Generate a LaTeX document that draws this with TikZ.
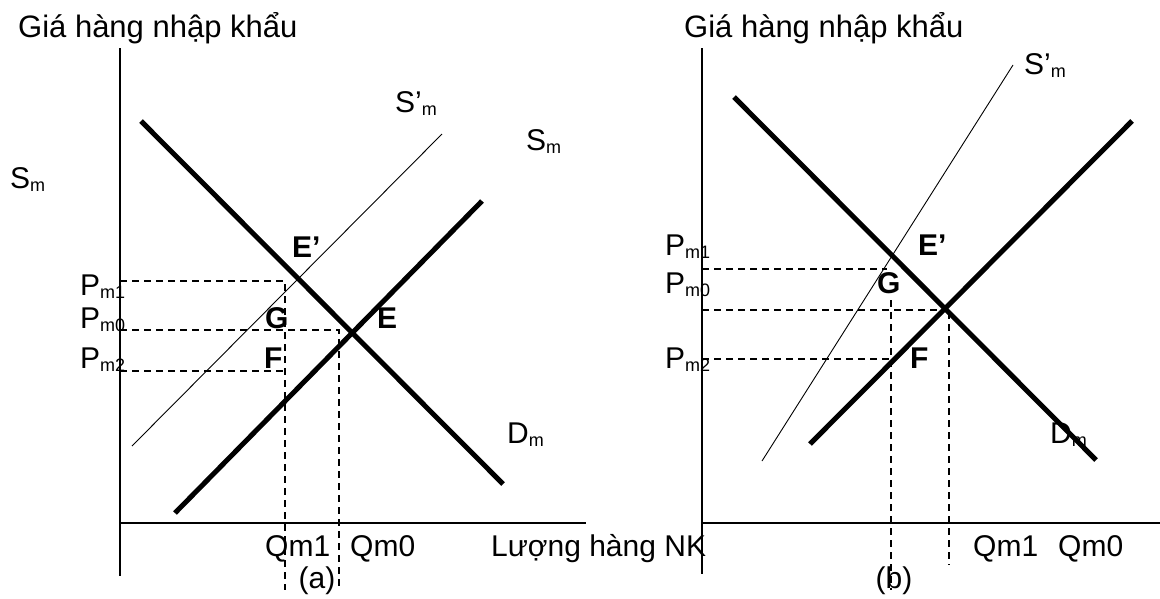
\documentclass[tikz,border=0pt]{standalone}
\usepackage{fontspec}
\setmainfont{Liberation Sans}
\newcommand\sbm[1]{\raisebox{-3pt}{\fontsize{18}{18}\selectfont #1}}
\begin{document}
\begin{tikzpicture}[x=1pt,y=-1pt,
  lbl/.style={inner sep=0pt,anchor=base west,font=\fontsize{30}{30}\selectfont},
  ttl/.style={inner sep=0pt,anchor=base west,font=\fontsize{31}{31}\selectfont},
  ptl/.style={inner sep=0pt,anchor=base west,font=\fontsize{30}{30}\selectfont\bfseries},
  axisline/.style={line width=2pt},
  curveline/.style={line width=5pt},
  thinline/.style={line width=0.9pt},
  guide/.style={line width=1.5pt,dash pattern=on 7pt off 5pt}]
\useasboundingbox (0,0) rectangle (1160,598);
\fill[white] (0,0) rectangle (1160,598);

% ---------- panel (a) ----------
\coordinate (aYt) at (120,48);
\coordinate (aYb) at (120,576);
\coordinate (aXl) at (120,523);
\coordinate (aXr) at (586,523);
\coordinate (aDt) at (141,121);
\coordinate (aDb) at (503,484);
\coordinate (aSb) at (175,513);
\coordinate (aSt) at (482,201);
\coordinate (aS2b) at (132,446);
\coordinate (aS2t) at (442,134);
\coordinate (aP1) at (120,281);
\coordinate (aP1e) at (285,281);
\coordinate (aP0) at (120,330);
\coordinate (aP0e) at (339,330);
\coordinate (aP2) at (120,371);
\coordinate (aP2e) at (285,371);
\coordinate (aQ1b) at (285,590);
\coordinate (aQ0b) at (339,588);

\draw[guide] (aP1) -- (aP1e) -- (aQ1b);
\draw[guide] (aP2) -- (aP2e);
\draw[guide] (aP0) -- (aP0e) -- (aQ0b);

\draw[axisline] (aYt) -- (aYb);
\draw[axisline] (aXl) -- (aXr);

\node[ttl] (atitle) at (18,37) {Giá hàng nhập khẩu};
\node[lbl] (aSmL) at (10,188) {S\sbm{m}};
\node[lbl] (aS2lab) at (395,112) {S’\sbm{m}};
\node[lbl] (aSlab) at (526,150) {S\sbm{m}};
\node[lbl] (aDlab) at (507,443) {D\sbm{m}};
\node[lbl] (aPm1) at (80,295) {P\sbm{m1}};
\node[lbl] (aPm0) at (80,328) {P\sbm{m0}};
\node[lbl] (aPm2) at (80,368) {P\sbm{m2}};
\node[ptl] (aEp) at (292,257) {E’};
\node[ptl] (aG) at (265,328) {G};
\node[ptl] (aE) at (377,328) {E};
\node[ptl] (aF) at (264,368) {F};
\node[lbl] (aQ1) at (265,556) {Qm1};
\node[lbl] (aQ0) at (350,556) {Qm0};
\node[lbl] (xlab) at (491,556) {Lượng hàng NK};
\node[lbl,anchor=base] (acap) at (317,588) {(a)};

\draw[thinline] (aS2b) -- (aS2t);
\draw[curveline] (aDt) -- (aDb);
\draw[curveline] (aSb) -- (aSt);

% ---------- panel (b) ----------
\coordinate (bYt) at (702,48);
\coordinate (bYb) at (702,574);
\coordinate (bXl) at (702,523);
\coordinate (bXr) at (1160,523);
\coordinate (bDt) at (734,97);
\coordinate (bDb) at (1096,460);
\coordinate (bSb) at (810,444);
\coordinate (bSt) at (1132,121);
\coordinate (bS2b) at (762,461);
\coordinate (bS2t) at (1013,65);
\coordinate (bP1) at (702,269);
\coordinate (bP1e) at (887,269);
\coordinate (bP0) at (702,310);
\coordinate (bP0e) at (945,310);
\coordinate (bP2) at (702,359);
\coordinate (bP2e) at (891,359);
\coordinate (bV1t) at (891,300);
\coordinate (bV1b) at (891,590);
\coordinate (bV0t) at (949,312);
\coordinate (bV0b) at (949,565);

\draw[guide] (bP1) -- (bP1e);
\draw[guide] (bP0) -- (bP0e);
\draw[guide] (bP2) -- (bP2e);
\draw[guide] (bV1t) -- (bV1b);
\draw[guide] (bV0t) -- (bV0b);

\draw[axisline] (bYt) -- (bYb);
\draw[axisline] (bXl) -- (bXr);

\node[ttl] (btitle) at (684,37) {Giá hàng nhập khẩu};
\node[lbl] (bS2lab) at (1024,74) {S’\sbm{m}};
\node[lbl] (bDlab) at (1050,443) {D\sbm{m}};
\node[lbl] (bPm1) at (665,255) {P\sbm{m1}};
\node[lbl] (bPm0) at (665,293) {P\sbm{m0}};
\node[lbl] (bPm2) at (665,368) {P\sbm{m2}};
\node[ptl] (bEp) at (918,255) {E’};
\node[ptl] (bG) at (877,293) {G};
\node[ptl] (bF) at (910,368) {F};
\node[lbl] (bQ1) at (973,556) {Qm1};
\node[lbl] (bQ0) at (1058,556) {Qm0};
\node[lbl,anchor=base] (bcap) at (894,588) {(b)};

\draw[thinline] (bS2b) -- (bS2t);
\draw[curveline] (bDt) -- (bDb);
\draw[curveline] (bSb) -- (bSt);
\end{tikzpicture}
\end{document}
